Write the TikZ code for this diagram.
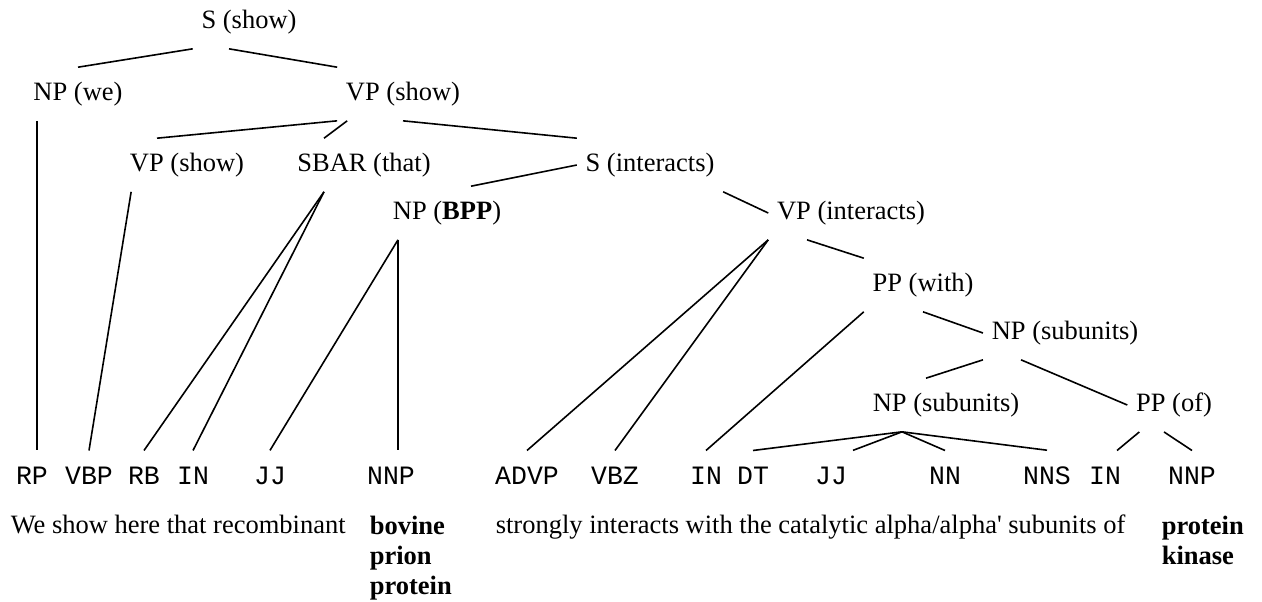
\documentclass[tikz,border=0pt]{standalone}
\usepackage{fontspec}
\setmainfont{Liberation Serif}
\setmonofont{Liberation Mono}
\usetikzlibrary{
  calc
}
\tikzset{
  cnode/.style={inner xsep=4pt, inner ysep=7pt},
  postag/.style={inner xsep=2pt, inner ysep=8pt, font=\ttfamily},
  words/.style={inner sep=0pt, anchor=base west, align=left}
}

\begin{document}
\begin{tikzpicture}[x=0.5pt, y=-0.5pt, line width=0.8pt]
  \fontsize{13.25}{15}\selectfont
  \useasboundingbox (0,0) rectangle (1262,601);
  \def\Ya{22};
  \def\Yb{94};
  \def\Yc{165};
  \def\Yd{213};
  \def\Ye{285};
  \def\Yf{333};
  \def\Yg{405};
  \def\Yt{476};
  \def\Yw{533};
        % phrases
        \node[cnode] (sshow) at (249, \Ya) {S (show)};
        \node[cnode] (npwe) at (78, \Yb) {NP (we)};
        \node[cnode] (vpshow) at (403, \Yb) {VP (show)};
        \node[cnode] (vpshowb) at (187, \Yc) {VP (show)};
        \node[cnode] (sbar) at (364, \Yc) {SBAR (that)};
        \node[cnode] (sint) at (650, \Yc) {S (interacts)};
        \node[cnode] (npbpp) at (447, \Yd) {NP (\textbf{BPP})};
        \node[cnode] (vpint) at (851, \Yd) {VP (interacts)};
        \node[cnode] (ppwith) at (923, \Ye) {PP (with)};
        \node[cnode] (npsuba) at (1065, \Yf) {NP (subunits)};
        \node[cnode] (npsubb) at (946, \Yg) {NP (subunits)};
        \node[cnode] (ppof) at (1174, \Yg) {PP (of)};
        % tags
        \node[postag] (rp) at (32, \Yt) {RP};
        \node[postag] (vbp) at (89, \Yt) {VBP};
        \node[postag] (rb) at (144, \Yt) {RB};
        \node[postag] (ina) at (193, \Yt) {IN};
        \node[postag] (jja) at (270, \Yt) {JJ};
        \node[postag] (nnpa) at (391, \Yt) {NNP};
        \node[postag] (advp) at (527, \Yt) {ADVP};
        \node[postag] (vbz) at (615, \Yt) {VBZ};
        \node[postag] (inb) at (706, \Yt) {IN};
        \node[postag] (dt) at (753, \Yt) {DT};
        \node[postag] (jjb) at (831, \Yt) {JJ};
        \node[postag] (nn) at (945, \Yt) {NN};
        \node[postag] (nns) at (1047, \Yt) {NNS};
        \node[postag] (inc) at (1105, \Yt) {IN};
        \node[postag] (nnpb) at (1192, \Yt) {NNP};
        % sentence
        \node[words] (wa) at (10, \Yw) {We show here that recombinant};
        \node[words, anchor=north west] (wb) at (369, \Yw - 18) {\textbf{bovine}\\\textbf{prion}\\\textbf{protein}};
        \node[words] (wc) at (495, \Yw) {strongly interacts with the catalytic alpha/alpha\textquotesingle{} subunits of};
        \node[words, anchor=north west] (wd) at (1161, \Yw - 18) {\textbf{protein}\\\textbf{kinase}};
	\draw ([xshift=2.5pt]rp.north |- npwe.south) -- ([xshift=2.5pt]rp.north);
	\draw (sshow.south west) -- (npwe.north);
	\draw ([xshift=-10pt]sshow.south) -- (vpshow.north west);
	\draw (vpshow.south west) -- ([xshift=-15pt]vpshowb.north);
	\draw ([xshift=5pt]vpshow.south west) -- ([xshift=-20pt]sbar.north);
	\draw (vpshow.south) -- (sint.north west);
	\draw ([xshift=5pt]vpshowb.south west) -- (vbp.north);
	\draw ([xshift=-20pt]sbar.south) -- (rb.north);
	\draw ([xshift=-20pt]sbar.south) -- (ina.north);
	\draw (sint.west) -- ([xshift=12pt]npbpp.north);
	\draw (sint.south east) -- (vpint.west);
	\draw ([xshift=3.5pt]nnpa.north |- npbpp.south) -- (jja.north);
	\draw ([xshift=3.5pt]nnpa.north |- npbpp.south) -- ([xshift=3.5pt]nnpa.north);
	\draw (vpint.south west) -- (advp.north);
	\draw (vpint.south west) -- (vbz.north);
	\draw ([xshift=-22pt]vpint.south) -- (ppwith.north west);
	\draw (ppwith.south west) -- (inb.north);
	\draw (ppwith.south) -- (npsuba.west);
	\draw (npsuba.south west) -- ([xshift=-10pt]npsubb.north);
	\draw ([xshift=-22pt]npsuba.south) -- (ppof.west);
	\draw ([xshift=-22pt]npsubb.south) -- (dt.north);
	\draw ([xshift=-22pt]npsubb.south) -- ([xshift=11pt]jjb.north);
	\draw ([xshift=-22pt]npsubb.south) -- (nn.north);
	\draw ([xshift=-22pt]npsubb.south) -- (nns.north);
	\draw ([xshift=6pt]ppof.south west) -- ([xshift=6pt]inc.north);
	\draw ([xshift=-5pt]ppof.south) -- (nnpb.north);
\end{tikzpicture}
\end{document}
